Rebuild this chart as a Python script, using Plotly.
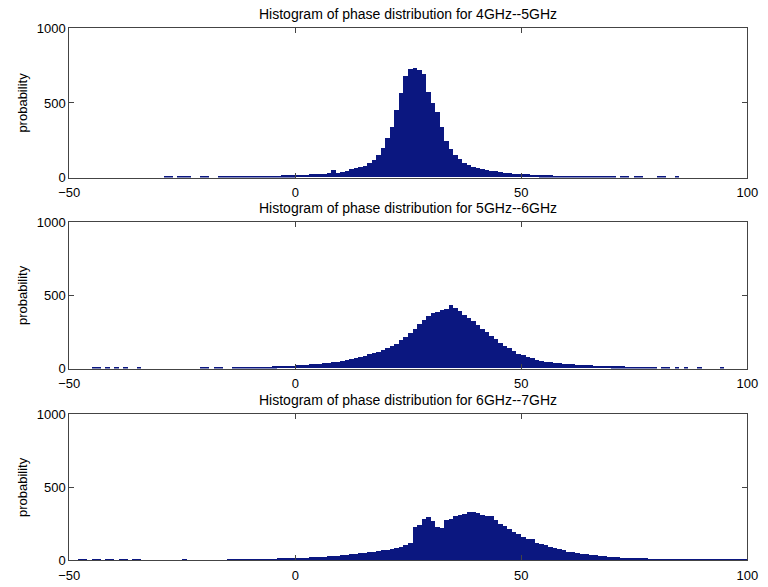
import plotly.graph_objects as go

titles = [
    "Histogram of phase distribution for 4GHz--5GHz",
    "Histogram of phase distribution for 5GHz--6GHz",
    "Histogram of phase distribution for 6GHz--7GHz",
]
y_label = "probability"
x_tick_vals = [-50, 0, 50, 100]
y_tick_vals = [0, 500, 1000]

# bin left edges (bin width 1) and counts
p1_bins = [-29, -28, -26, -25, -24, -21, -20, -17, -16, -15, -14, -13, -12, -11, -10, -9, -8, -7, -6, -5, -4, -3, -2, -1,
           0, 1, 2, 3, 4, 5, 6, 7, 8, 9, 10, 11, 12, 13, 14, 15, 16, 17, 18, 19, 20, 21, 22, 23, 24, 25, 26, 27, 28, 29,
           30, 31, 32, 33, 34, 35, 36, 37, 38, 39, 40, 41, 42, 43, 44, 45, 46, 47, 48, 49, 50, 51, 52, 53, 54, 55, 56,
           57, 58, 59, 60, 61, 62, 63, 64, 65, 66, 67, 68, 69, 70, 72, 73, 75, 76, 80, 81, 84]
p1_counts = [4, 4, 4, 4, 4, 4, 4, 3, 4, 4, 5, 5, 5, 6, 6, 7, 7, 8, 9, 9, 10, 11, 12, 13,
             14, 15, 16, 18, 20, 22, 24, 27, 50, 30, 36, 42, 52, 60, 70, 76, 96, 112, 149, 194, 263, 336, 450, 564, 678, 725, 732, 715, 690, 568,
             500, 438, 336, 245, 188, 149, 119, 96, 78, 70, 60, 54, 46, 42, 38, 34, 30, 27, 24, 22, 20, 18, 16, 15, 13, 12, 11,
             10, 9, 8, 8, 7, 7, 6, 6, 5, 5, 4, 4, 4, 4, 4, 4, 4, 4, 4, 4, 4]

p2_bins = [-45, -44, -42, -40, -38, -35, -21, -20, -18, -17, -14, -13, -12, -11, -10, -9, -8, -7, -6, -5, -4, -3, -2, -1,
           0, 1, 2, 3, 4, 5, 6, 7, 8, 9, 10, 11, 12, 13, 14, 15, 16, 17, 18, 19, 20, 21, 22, 23, 24, 25, 26, 27, 28, 29,
           30, 31, 32, 33, 34, 35, 36, 37, 38, 39, 40, 41, 42, 43, 44, 45, 46, 47, 48, 49, 50, 51, 52, 53, 54, 55, 56,
           57, 58, 59, 60, 61, 62, 63, 64, 65, 66, 67, 68, 69, 70, 71, 72, 73, 74, 75, 76, 77, 78, 79, 81, 82, 84, 86, 89, 94]
p2_counts = [2, 2, 2, 2, 2, 2, 4, 4, 4, 4, 5, 5, 6, 6, 7, 8, 9, 10, 11, 12, 14, 15, 17, 18,
             20, 22, 24, 26, 28, 30, 33, 36, 40, 45, 50, 55, 62, 70, 78, 86, 95, 105, 112, 122, 135, 150, 168, 190, 215, 240, 268, 300, 330, 360,
             375, 385, 395, 405, 435, 410, 390, 365, 345, 320, 295, 270, 245, 220, 200, 175, 155, 135, 118, 100, 88, 78, 68, 58, 50, 44, 40,
             36, 33, 30, 28, 26, 24, 22, 20, 19, 18, 17, 15, 14, 13, 12, 12, 11, 11, 10, 9, 9, 8, 7, 6, 6, 6, 5, 4, 4]

p3_bins = [-48, -47, -45, -44, -42, -41, -39, -38, -36, -35, -25, -15, -14, -13, -12, -11, -10, -9, -8, -7, -6, -5, -4, -3, -2, -1,
           0, 1, 2, 3, 4, 5, 6, 7, 8, 9, 10, 11, 12, 13, 14, 15, 16, 17, 18, 19, 20, 21, 22, 23, 24, 25, 26, 27, 28, 29,
           30, 31, 32, 33, 34, 35, 36, 37, 38, 39, 40, 41, 42, 43, 44, 45, 46, 47, 48, 49, 50, 51, 52, 53, 54, 55, 56,
           57, 58, 59, 60, 61, 62, 63, 64, 65, 66, 67, 68, 69, 70, 71, 72, 73, 74, 75, 76, 77, 78, 79, 80, 81, 82, 83,
           84, 85, 86, 87, 88, 89, 90, 91, 92, 93, 94, 95, 96, 97, 98, 99]
p3_counts = [3, 3, 3, 3, 3, 3, 3, 3, 3, 3, 5, 4, 5, 5, 6, 6, 7, 7, 8, 9, 10, 11, 12, 13, 14, 15,
             16, 17, 18, 19, 21, 23, 25, 27, 29, 31, 33, 36, 39, 42, 46, 50, 54, 58, 63, 68, 73, 78, 84, 92, 105, 118, 230, 238, 285, 292,
             270, 225, 220, 278, 285, 300, 310, 318, 330, 328, 325, 312, 305, 300, 272, 250, 235, 215, 195, 182, 160, 148, 145, 120, 108, 102, 90,
             84, 78, 68, 58, 54, 50, 45, 40, 37, 34, 30, 27, 25, 22, 19, 18, 16, 15, 14, 13, 12, 11, 11, 10, 10, 9, 9,
             8, 8, 7, 7, 7, 6, 6, 6, 6, 5, 5, 5, 5, 5, 4, 4]

panels = [(p1_bins, p1_counts), (p2_bins, p2_counts), (p3_bins, p3_counts)]

bar_color = "#0b1780"
frame_color = "#444444"
font_family = "Liberation Sans, Arial, Helvetica, sans-serif"

# layout in pixels (plot-area edges)
W, H = 768, 587
x_left, x_right = 60, 758
panel_tops = [22, 221, 418]
panel_bottoms = [175, 371, 568]
title_ys = [7, 206, 403]

fig = go.Figure()
for i, (bins, counts) in enumerate(panels):
    ax = "" if i == 0 else str(i + 1)
    fig.add_trace(go.Bar(
        x=[b + 0.5 for b in bins], y=counts, width=1.0,
        marker=dict(color=bar_color, line=dict(width=0)),
        xaxis="x" + ax, yaxis="y" + ax, showlegend=False,
    ))
    common = dict(showline=True, linecolor=frame_color, linewidth=1, mirror="ticks",
                  ticks="inside", ticklen=5, tickcolor=frame_color, showgrid=False,
                  zeroline=False, ticklabeloverflow="allow",
                  tickfont=dict(size=13, color="black", family=font_family))
    fig.layout["xaxis" + ax] = dict(
        domain=[x_left / W, x_right / W], range=[-50, 100], tickvals=x_tick_vals,
        anchor="y" + ax, ticklabelstandoff=3, **common)
    fig.layout["yaxis" + ax] = dict(
        domain=[1 - panel_bottoms[i] / H, 1 - panel_tops[i] / H], range=[0, 1000],
        tickvals=y_tick_vals, anchor="x" + ax,
        title=dict(text=y_label, font=dict(size=13, color="black", family=font_family), standoff=6),
        **common)
    fig.add_annotation(text=titles[i], xref="paper", yref="paper",
                       x=(x_left + x_right) / 2 / W, y=1 - title_ys[i] / H,
                       showarrow=False, xanchor="center", yanchor="middle",
                       font=dict(size=14, color="black", family=font_family))

fig.update_layout(width=W, height=H, margin=dict(l=0, r=0, t=0, b=0),
                  plot_bgcolor="white", paper_bgcolor="white", bargap=0)
fig.write_html("out.html")
